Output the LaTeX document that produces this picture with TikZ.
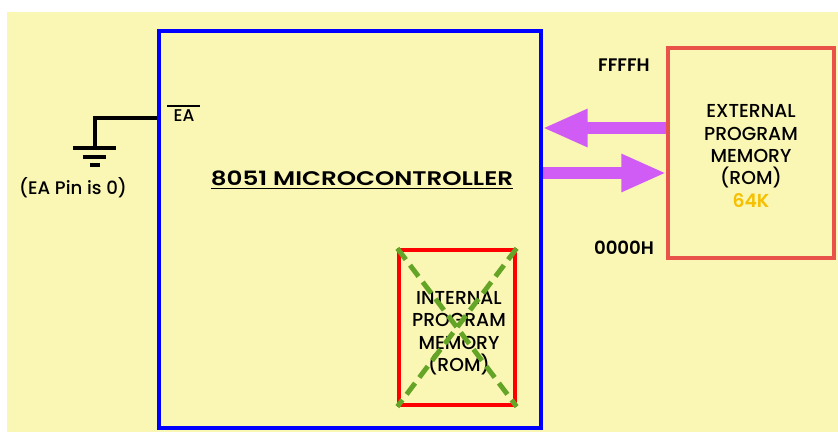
\documentclass[tikz,border=0pt]{standalone}
\usepackage{fontspec}
\setmainfont{Poppins}[UprightFont={* Medium}, BoldFont={* SemiBold}]
\newfontfamily\titlefont{Poppins}[UprightFont={* SemiBold}, FakeStretch=1.25]
\usepackage{xcolor}
\usepackage{tikz}
\usetikzlibrary{arrows.meta}

\definecolor{bgyellow}{RGB}{250,246,180}
\definecolor{arrowpink}{RGB}{208,92,245}
\definecolor{crossgreen}{RGB}{100,165,40}
\definecolor{extred}{RGB}{232,82,72}
\definecolor{gold}{RGB}{245,192,0}

\begin{document}
\begin{tikzpicture}[x=0.03cm, y=-0.03cm,
    memtext/.style={align=center, font=\fontsize{16}{19.2}\selectfont},
    wire/.style={line width=2.6pt},
    fatarrow/.style={arrowpink, line width=0.36cm, -{Triangle[length=1.35cm, width=1.05cm]}},
    lbl/.style={font=\fontsize{15.5}{18}\selectfont\bfseries}]
  \useasboundingbox (0,0) rectangle (838,432);
  \fill[bgyellow] (7,12) rectangle (838,432);

  % Microcontroller
  \node[draw=blue, line width=2.6pt, minimum width=11.46cm, minimum height=11.91cm] (mcu) at (350,229.5) {};
  \node[font=\fontsize{16.8}{20}\titlefont] (title) at (362,180) {\underline{8051 MICROCONTROLLER}};
  \node[draw=red, line width=2.8pt, minimum width=3.48cm, minimum height=4.65cm] (int) at (457,327.5) {};
  \node[memtext] (inttext) at (459,333) {INTERNAL\\PROGRAM\\MEMORY\\(ROM)};
  \draw[crossgreen, line width=4.2pt, dash pattern=on 12pt off 6pt] (int.north west) -- (int.south east);
  \draw[crossgreen, line width=4.2pt, dash pattern=on 12pt off 6pt] (int.north east) -- (int.south west);

  % EA pin to ground
  \node[font=\fontsize{14.5}{17}\selectfont] (ea) at (184,116) {EA};
  \draw[line width=2pt] ([xshift=-2pt]ea.north west) -- ([xshift=1pt]ea.north east);
  \coordinate (gnd) at (95,148);
  \draw[wire] (mcu.west |- 0,118) -- (gnd |- 0,118) -- (gnd);
  \draw[wire] (73,148) -- (116,148);
  \draw[wire] (83,157) -- (106,157);
  \draw[wire] (90,165) -- (100,165);
  \node[font=\fontsize{15.5}{17}\selectfont] (pin) at (73,188) {(EA Pin is 0)};

  % External memory
  \node[draw=extred, line width=2.8pt, minimum width=4.98cm, minimum height=6.3cm] (ext) at (751,153) {};
  \node[memtext] (exttext) at (751,156)
    {EXTERNAL\\PROGRAM\\MEMORY\\(ROM)\\\textcolor{gold}{\bfseries 64K}};
  \node[lbl] (top) at (624,65) {FFFFH};
  \node[lbl] (bot) at (624,248) {0000H};

  % Data flow
  \draw[fatarrow] (ext.west |- 0,128) -- (mcu.east |- 0,128);
  \draw[fatarrow] (mcu.east |- 0,173) -- (ext.west |- 0,173);
\end{tikzpicture}
\end{document}
